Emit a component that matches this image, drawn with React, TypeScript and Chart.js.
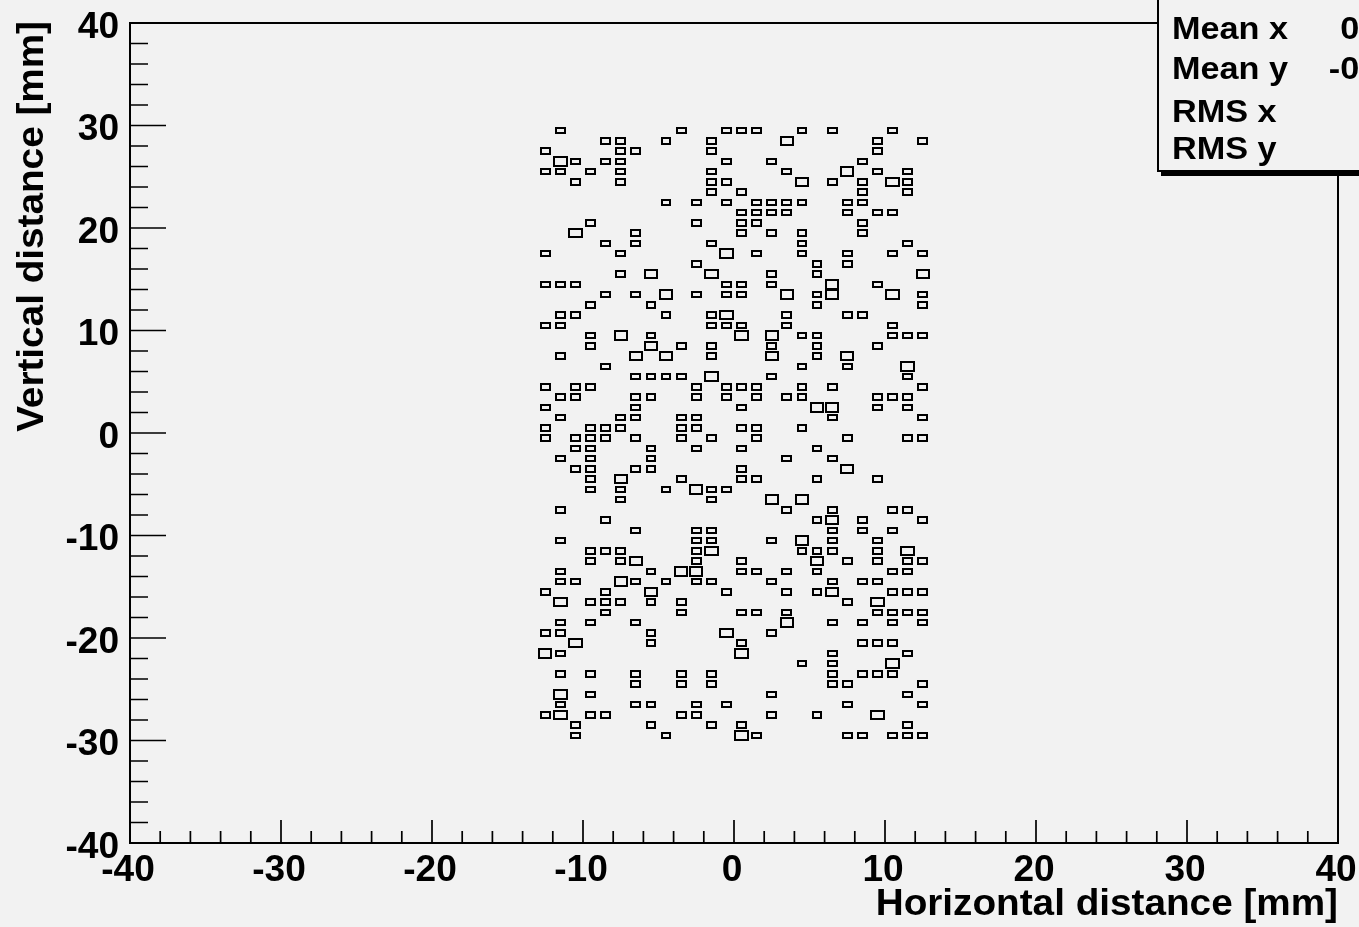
import React, { useEffect, useRef } from "react";
import { Chart, registerables } from "chart.js";

Chart.register(...registerables);

// ---------------- data ----------------
const xBinCenters = [
  -12.5, -11.5, -10.5, -9.5, -8.5, -7.5, -6.5, -5.5, -4.5, -3.5, -2.5, -1.5, -0.5,
  0.5, 1.5, 2.5, 3.5, 4.5, 5.5, 6.5, 7.5, 8.5, 9.5, 10.5, 11.5, 12.5,
];

const yBinCenters = [
  29.5, 28.5, 27.5, 26.5, 25.5, 24.5, 23.5, 22.5, 21.5, 20.5,
  19.5, 18.5, 17.5, 16.5, 15.5, 14.5, 13.5, 12.5, 11.5, 10.5,
  9.5, 8.5, 7.5, 6.5, 5.5, 4.5, 3.5, 2.5, 1.5, 0.5,
  -0.5, -1.5, -2.5, -3.5, -4.5, -5.5, -6.5, -7.5, -8.5, -9.5,
  -10.5, -11.5, -12.5, -13.5, -14.5, -15.5, -16.5, -17.5, -18.5, -19.5,
  -20.5, -21.5, -22.5, -23.5, -24.5, -25.5, -26.5, -27.5, -28.5, -29.5,
];

// bin contents per row (one row per yBinCenters entry, one char per xBinCenters entry; '.' = empty)
const binContents = [
  ".1.......1..1" + "11..1.1...1..",
  "....11..1..1." + "...2.....1..1",
  "1....11....1." + ".........1...",
  ".21.11......1" + "..1.....1....",
  "11.1.1.....1." + "...1...2.1.1.",
  "..1..1.....11" + "....2.1.1.21.",
  "...........1." + "1.......1..1.",
  "........1.1.1" + ".1111..11....",
  "............." + "1111...1.11..",
  "...1......1.." + "11......1....",
  "..2...1......" + "1.1.1...1....",
  "....1.1....1." + "....1......1.",
  "1....1......2" + ".1..1..1..1.1",
  "..........1.." + ".....1.1.....",
  ".....1.2...2." + "..1..1......2",
  "111.........1" + "1.1...2..1...",
  "....1.1.2.1.1" + "1..2.12...2.1",
  "...1...1....." + ".....1......1",
  ".11.....1..12" + "...1...11....",
  "11.........11" + "1..1......1..",
  "...1.2.1....." + "2.2.11....111",
  "...1...2.1.1." + "..1..1...1...",
  ".1....2.2..1." + "..2..1.2.....",
  "....1........" + "....1..1...2.",
  "......1111.2." + "..1........1.",
  "1.11......1.1" + "11..1.1.....1",
  ".11...11..1.1" + ".1.11....111.",
  "1.....1......" + "1....22..1.1.",
  ".1...11..11.." + "......1.....1",
  "1..111...11.." + "11..1........",
  "1.111.1..1.1." + ".1.....1...11",
  "..11...1..1.." + "1....1.......",
  ".1.1...1....." + "...1..1......",
  "..11..11....." + "1......2.....",
  "...1.2...1..." + "11...1...1...",
  "...1.1..1.211" + ".............",
  ".....1.....1." + "..2.2........",
  ".1..........." + "...1..1...11.",
  "....1........" + ".....12.1...1",
  "......1...11." + "......1.1.1..",
  ".1........11." + "..1.2.1..1...",
  "...111....12." + "....111..1.2.",
  "...1.12...1.." + "1....2.1.1.11",
  ".1.....1.22.." + "11.1.1....11.",
  ".11..21.1.11." + "..1...1.11...",
  "1...1..2....1" + "...1.12...111",
  ".2.111.1.1..." + ".......1.2...",
  "....1....1..." + "11.1.....1111",
  ".1.1..1......" + "...2..1.1.1.1",
  "11.....1....2" + "..1..........",
  "..2....1....." + "1.......111..",
  "21..........." + "2.....1....1.",
  "............." + "....1.1...2..",
  ".1.1..1..1.1." + "......1.111..",
  "......1..1.1." + "......11....1",
  ".2.1........." + "..1........1.",
  ".1....11..1.1" + ".......1....1",
  "12.11....11.." + "..1..1...2...",
  "..1....1...1." + "1..........1.",
  "..1.....1...." + "21.....11.111",
];

const xMajorTicks = [-40, -30, -20, -10, 0, 10, 20, 30, 40];
const yMajorTicks = [-40, -30, -20, -10, 0, 10, 20, 30, 40];
const xTickLabels = ["-40", "-30", "-20", "-10", "0", "10", "20", "30", "40"];
const yTickLabels = ["-40", "-30", "-20", "-10", "0", "10", "20", "30", "40"];
const xTitle = "Horizontal distance [mm]";
const yTitle = "Vertical distance [mm]";
const statNames = ["Mean x", "Mean y", "RMS x", "RMS y"];
const statValues = ["0.0123", "-0.2123", "7.506", "17.3"];

// ---------------- style ----------------
const FONT = '"Liberation Sans", Arial, Helvetica, sans-serif';
const BG = "#f2f2f2";
const BOX_FRAC: Record<number, { w: number; h: number }> = {
  1: { w: 0.58, h: 0.55 },
  2: { w: 0.82, h: 0.83 },
};

function drawText(
  ctx: CanvasRenderingContext2D,
  text: string,
  x: number,
  y: number,
  size: number,
  align: CanvasTextAlign,
  sx: number,
  rot = 0
) {
  ctx.save();
  ctx.translate(x, y);
  if (rot) ctx.rotate(rot);
  ctx.scale(sx, 1);
  ctx.font = `bold ${size}px ${FONT}`;
  ctx.textAlign = align;
  ctx.textBaseline = "alphabetic";
  ctx.fillStyle = "#000";
  ctx.fillText(text, 0, 0);
  ctx.restore();
}

const rootPlugin = {
  id: "rootStyle",
  beforeDraw(chart: any) {
    const ctx = chart.ctx as CanvasRenderingContext2D;
    ctx.save();
    ctx.fillStyle = BG;
    ctx.fillRect(0, 0, chart.width, chart.height);
    ctx.restore();
  },
  afterDraw(chart: any) {
    const ctx = chart.ctx as CanvasRenderingContext2D;
    const xs = chart.scales.x;
    const ys = chart.scales.y;
    const area = chart.chartArea;

    // boxes
    const pts = chart.data.datasets[0].data as { x: number; y: number; v: number }[];
    ctx.save();
    ctx.strokeStyle = "#000";
    ctx.lineWidth = 2;
    for (const p of pts) {
      const f = BOX_FRAC[p.v] || BOX_FRAC[2];
      const x0 = Math.round(xs.getPixelForValue(p.x - f.w / 2));
      const x1 = Math.round(xs.getPixelForValue(p.x + f.w / 2));
      const y0 = Math.round(ys.getPixelForValue(p.y + f.h / 2));
      const y1 = Math.round(ys.getPixelForValue(p.y - f.h / 2));
      ctx.strokeRect(x0, y0, x1 - x0, y1 - y0);
    }
    ctx.restore();

    // frame
    ctx.save();
    ctx.strokeStyle = "#000";
    ctx.lineWidth = 2;
    ctx.strokeRect(area.left, area.top, area.right - area.left, area.bottom - area.top);

    // ticks
    ctx.lineWidth = 1.7;
    ctx.beginPath();
    for (let v = -40; v <= 40; v += 2) {
      const major = v % 10 === 0;
      const px = xs.getPixelForValue(v);
      ctx.moveTo(px, area.bottom);
      ctx.lineTo(px, area.bottom - (major ? 23 : 12));
      const py = ys.getPixelForValue(v);
      ctx.moveTo(area.left, py);
      ctx.lineTo(area.left + (major ? 36 : 18), py);
    }
    ctx.stroke();
    ctx.restore();

    // tick labels
    xMajorTicks.forEach((v, i) => {
      drawText(ctx, xTickLabels[i], xs.getPixelForValue(v) - 2, 880.5, 36, "center", 1.03);
    });
    yMajorTicks.forEach((v, i) => {
      drawText(ctx, yTickLabels[i], 119, ys.getPixelForValue(v) + 14.5, 36, "right", 1.03);
    });

    // axis titles
    drawText(ctx, xTitle, area.right, 915, 36, "right", 1.075);
    drawText(ctx, yTitle, 43, 21, 36, "right", 1.075, -Math.PI / 2);

    // stats box
    ctx.save();
    ctx.fillStyle = "#000";
    ctx.fillRect(1161, -10, 400, 186);
    ctx.fillStyle = BG;
    ctx.fillRect(1158, -10, 400, 181);
    ctx.strokeStyle = "#000";
    ctx.lineWidth = 2;
    ctx.strokeRect(1158, -10, 400, 181);
    ctx.restore();
    const rowsY = [39.3, 78.8, 121.5, 158.5];
    statNames.forEach((n, i) => {
      drawText(ctx, n, 1172, rowsY[i], 32, "left", 1.07);
      drawText(ctx, statValues[i], 1445, rowsY[i], 32, "right", 1.07);
    });
  },
};

export default function App() {
  const ref = useRef<HTMLCanvasElement | null>(null);

  useEffect(() => {
    if (!ref.current) return;
    const points: { x: number; y: number; v: number }[] = [];
    binContents.forEach((row, r) => {
      for (let c = 0; c < row.length; c++) {
        const ch = row[c];
        if (ch === ".") continue;
        points.push({ x: xBinCenters[c], y: yBinCenters[r], v: Number(ch) });
      }
    });

    const chart = new Chart(ref.current, {
      type: "scatter",
      data: {
        datasets: [
          {
            data: points as any,
            pointRadius: 0,
            pointHoverRadius: 0,
            showLine: false,
          },
        ],
      },
      options: {
        animation: false,
        responsive: false,
        events: [],
        layout: { padding: { left: 130, top: 23, right: 21, bottom: 84 } },
        scales: {
          x: { type: "linear", min: -40, max: 40, display: false },
          y: { type: "linear", min: -40, max: 40, display: false },
        },
        plugins: {
          legend: { display: false },
          tooltip: { enabled: false },
          title: { display: false },
        },
      },
      plugins: [rootPlugin],
    });
    return () => chart.destroy();
  }, []);

  return (
    <div style={{ position: "fixed", left: 0, top: 0, width: 1359, height: 927, background: BG }}>
      <canvas ref={ref} width={1359} height={927} style={{ display: "block", width: 1359, height: 927 }} />
    </div>
  );
}
